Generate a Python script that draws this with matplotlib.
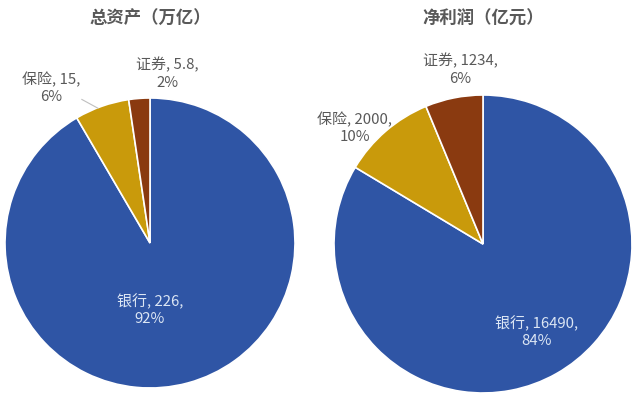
import matplotlib
matplotlib.use("Agg")
import matplotlib.pyplot as plt

plt.rcParams["font.family"] = ["Noto Sans CJK SC", "DejaVu Sans"]

categories = ["银行", "保险", "证券"]
assets = [226, 15, 5.8]          # 万亿
profits = [16490, 2000, 1234]    # 亿元
assets_title = "总资产（万亿）"
profits_title = "净利润（亿元）"

colors = ["#2F55A5", "#C99A0B", "#8A3A10"]
GRAY = "#595959"
INNER = "#DCE6F4"


def fmt(v):
    return f"{v:g}"


def draw_pie(ax, values, label_pos, leader=None):
    ax.pie(values, colors=colors, startangle=90, counterclock=False,
           wedgeprops=dict(edgecolor="white", linewidth=1.2))
    total = sum(values)
    for i, (name, v) in enumerate(zip(categories, values)):
        pct = round(v / total * 100)
        x, y = label_pos[i]
        c = INNER if i == 0 else GRAY
        ax.text(x, y, f"{name}, {fmt(v)},\n{pct}%", ha="center", va="center",
                fontsize=10.8, color=c, linespacing=1.3)
    if leader:
        (x0, y0), (x1, y1) = leader
        ax.plot([x0, x1], [y0, y1], color="#BFBFBF", lw=0.8, clip_on=False)
    ax.set_xlim(-1, 1)
    ax.set_ylim(-1, 1)
    ax.set_aspect("equal")
    ax.axis("off")


fig = plt.figure(figsize=(6.4, 3.99), dpi=100)
W, H = 640, 399


def px_axes(cx, cy, r):
    return fig.add_axes([(cx - r) / W, (H - cy - r) / H, 2 * r / W, 2 * r / H])


ax1 = px_axes(150, 243, 145)
draw_pie(ax1, assets,
         [(0.0, -0.46), (-0.68, 1.07), (0.12, 1.17)],
         leader=((-0.47, 0.99), (-0.36, 0.93)))

ax2 = px_axes(483, 244, 149)
draw_pie(ax2, profits,
         [(0.36, -0.59), (-0.86, 0.78), (-0.15, 1.17)])

fig.text(150 / W, 1 - 19 / H, assets_title, ha="center", va="center",
         fontsize=12.5, fontweight="bold", color=GRAY)
fig.text(483 / W, 1 - 19 / H, profits_title, ha="center", va="center",
         fontsize=12.5, fontweight="bold", color=GRAY)

fig.savefig("out.png", dpi=100, facecolor="white")
